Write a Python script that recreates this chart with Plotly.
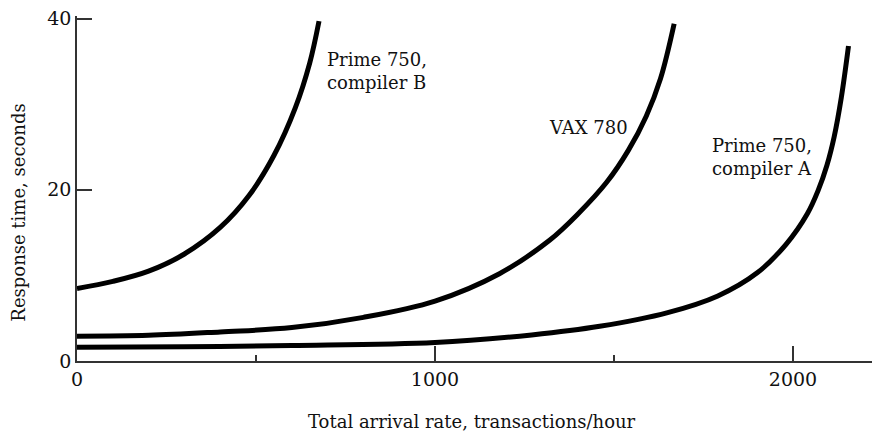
import plotly.graph_objects as go

# Data (x: transactions/hour, y: seconds)
b_x = [0, 100, 200, 300, 400, 480, 550, 610, 650, 676]
b_y = [8.47, 9.3, 10.5, 12.5, 15.6, 19.3, 24.0, 29.6, 34.8, 39.7]

vax_x = [0, 200, 400, 600, 800, 1000, 1180, 1320, 1400, 1480, 1540, 1590, 1630, 1668]
vax_y = [2.9, 3.0, 3.4, 3.9, 5.1, 7.0, 10.2, 14.1, 17.2, 20.9, 24.6, 28.6, 33.0, 39.4]

a_x = [0, 300, 600, 1000, 1270, 1460, 1650, 1790, 1900, 1980, 2040, 2070, 2095, 2115, 2135, 2155]
a_y = [1.6, 1.65, 1.8, 2.15, 3.05, 4.05, 5.65, 7.6, 10.3, 13.6, 17.2, 19.9, 22.9, 26.2, 30.8, 36.8]

x_ticks = [0, 1000, 2000]
x_minor = [500, 1500]
y_ticks = [0, 20, 40]

labels = ["Prime 750,<br>compiler B", "VAX 780", "Prime 750,<br>compiler A"]
label_x = [693, 1313, 1768]
label_y = [33.9, 27.3, 23.8]

x_title = "Total arrival rate, transactions/hour"
y_title = "Response time, seconds"

FONT = "DejaVu Serif"
INK = "#111"
AXC = "#333"

fig = go.Figure()
for xs, ys in [(b_x, b_y), (vax_x, vax_y), (a_x, a_y)]:
    fig.add_trace(go.Scatter(x=xs, y=ys, mode="lines",
                             line=dict(color="black", width=5, shape="spline", smoothing=1.0),
                             showlegend=False, hoverinfo="skip"))

for t, lx, ly in zip(labels, label_x, label_y):
    fig.add_annotation(x=lx, y=ly, text=t, showarrow=False, xanchor="left", yanchor="middle",
                       align="left", font=dict(family=FONT, size=18, color=INK))

# axis titles
fig.add_annotation(xref="paper", yref="paper", x=0.492, y=0, yshift=-60, text=x_title,
                   showarrow=False, xanchor="center", yanchor="middle",
                   font=dict(family=FONT, size=18, color=INK))
fig.add_annotation(xref="paper", yref="paper", x=0, xshift=-58, y=0.43, text=y_title,
                   textangle=-90, showarrow=False, xanchor="center", yanchor="middle",
                   font=dict(family=FONT, size=18, color=INK))

# page body has an 8px margin, so the figure is sized to fit the window
fig.update_layout(
    width=872, height=428,
    margin=dict(l=69, r=0, t=8.43, b=74.5),
    plot_bgcolor="white", paper_bgcolor="white",
    font=dict(family=FONT, color=INK),
    xaxis=dict(range=[0, 2243], tickvals=x_ticks, ticks="inside", ticklen=15, tickwidth=1.5,
               tickcolor=AXC, showline=True, linecolor=AXC, linewidth=1.5, automargin=False,
               showgrid=False, zeroline=False, tickfont=dict(size=19, family=FONT, color=INK),
               ticklabeloverflow="allow",
               minor=dict(tickvals=x_minor, ticks="inside", ticklen=6, tickwidth=1.5, tickcolor=AXC)),
    yaxis=dict(range=[0, 40.3], tickvals=y_ticks, ticks="inside", ticklen=15, tickwidth=1.5,
               tickcolor=AXC, showline=True, linecolor=AXC, linewidth=1.5, automargin=False,
               showgrid=False, zeroline=False, tickfont=dict(size=19, family=FONT, color=INK),
               ticklabeloverflow="allow"),
)

fig.write_html("out.html")
